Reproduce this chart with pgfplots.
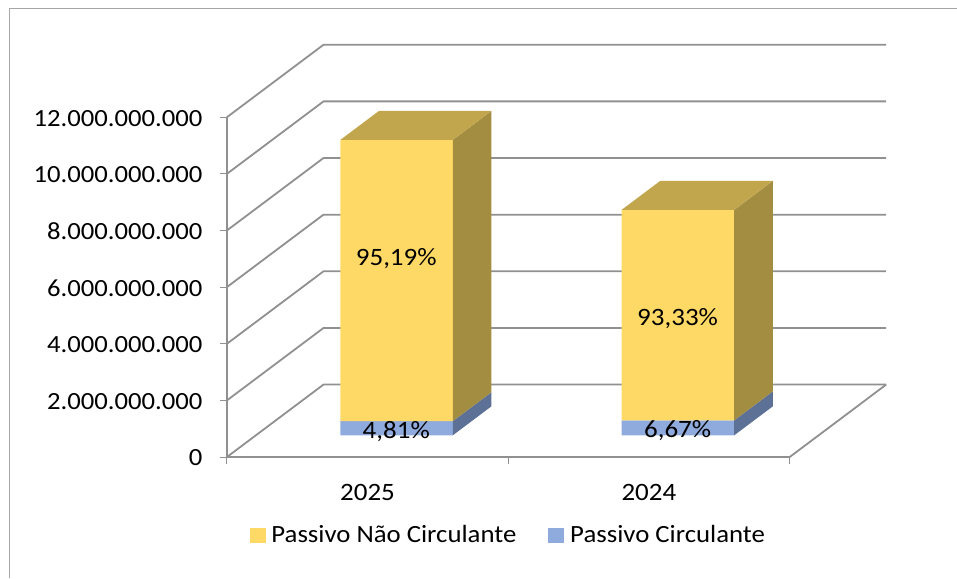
\documentclass[border=0pt]{standalone}
\usepackage{fontspec}
\setmainfont[FakeStretch=1.08]{Carlito}
\usepackage{pgfplots}
\pgfplotsset{compat=1.18}
\definecolor{gridc}{HTML}{909090}
\definecolor{framec}{HTML}{A6A6A6}
\definecolor{yfront}{HTML}{FFD966}
\definecolor{ytop}{HTML}{C2A64E}
\definecolor{yside}{HTML}{A38D40}
\definecolor{bfront}{HTML}{8FAADC}
\definecolor{bside}{HTML}{5D7096}
% x, y are chart values; z is the depth into the 3-D box (0 front, 1 back wall)
\newcommand\poly[2]{\addplot[fill=#1,draw=none,forget plot] table[x expr=\thisrow{x}+\thisrow{z}*0.3435,y expr=\thisrow{y}+\thisrow{z}*2560000000,row sep=\\]{x y z\\ #2};}
\newcommand\gridl[1]{\addplot[gridc,line width=1.8pt,forget plot,line join=round] table[x expr=\thisrow{x}+\thisrow{z}*0.3435,y expr=\thisrow{y}+\thisrow{z}*2560000000,row sep=\\]{x y z\\ 0 #1 0\\ 0 #1 1\\ 2 #1 1\\};}
% bar: left, right, low value, high value, front colour, side colour
\newcommand\barseg[6]{%
 \poly{#5}{#1 #3 0.3\\ #2 #3 0.3\\ #2 #4 0.3\\ #1 #4 0.3\\ #1 #3 0.3\\}
 \poly{#6}{#2 #3 0.3\\ #2 #3 0.7\\ #2 #4 0.7\\ #2 #4 0.3\\ #2 #3 0.3\\}
}
\newcommand\bartop[3]{\poly{ytop}{#1 #3 0.3\\ #2 #3 0.3\\ #2 #3 0.7\\ #1 #3 0.7\\ #1 #3 0.3\\}}
\begin{document}
\begin{tikzpicture}
\begin{axis}[
  at={(0pt,0pt)},anchor=south west,
  scale only axis,width=563pt,height=340pt,
  xmin=0,xmax=2,ymin=0,ymax=12000000000,
  clip=false,
  axis lines=left,axis line style={gridc,line width=1.8pt,-},
  every tick/.style={gridc,line width=1pt},
  major tick length=7pt,
  tick align=outside,
  xtick={0,1,2},xticklabels={},
  extra x ticks={0.5,1.5},extra x tick labels={2025,2024},
  extra x tick style={major tick length=0pt,tick label style={yshift=-24pt,font=\fontsize{25}{28}\selectfont}},
  ytick={0,2000000000,4000000000,6000000000,8000000000,10000000000,12000000000},
  scaled y ticks=false,
  yticklabel style={xshift=-14pt,yshift=-1pt,font=\fontsize{24.7}{28}\selectfont,/pgf/number format/fixed,/pgf/number format/precision=0,/pgf/number format/1000 sep={.},/pgf/number format/assume math mode=true},
  tick label style={text=black},
  ytick pos=left,xtick pos=bottom,
  legend style={at={(0.5,-0.2286)},anchor=center,draw=none,fill=none,legend columns=2,
    font=\fontsize{24.8}{28}\selectfont,/tikz/every even column/.append style={column sep=30pt},/tikz/every odd column/.append style={column sep=4.5pt}},
  legend cell align=left,
]
\gridl{0}\gridl{2000000000}\gridl{4000000000}\gridl{6000000000}\gridl{8000000000}\gridl{10000000000}\gridl{12000000000}
\addplot[gridc,line width=1.8pt,forget plot] table[x expr=\thisrow{x}+\thisrow{z}*0.3435,y expr=\thisrow{y}+\thisrow{z}*2560000000,row sep=\\]{x y z\\ 2 0 0\\ 2 0 1\\};
% 2025: 0.50 + 9.93 thousand million
\barseg{0.3}{0.7}{0}{500000000}{bfront}{bside}
\barseg{0.3}{0.7}{500000000}{10430000000}{yfront}{yside}
\bartop{0.3}{0.7}{10430000000}
% 2024: 0.53 + 7.43 thousand million
\barseg{1.3}{1.7}{0}{530000000}{bfront}{bside}
\barseg{1.3}{1.7}{530000000}{7960000000}{yfront}{yside}
\bartop{1.3}{1.7}{7960000000}
\addlegendimage{legend image code/.code={\fill[yfront] (0pt,-7pt) rectangle (15pt,7pt);}}
\addlegendentry{Passivo Não Circulante}
\addlegendimage{legend image code/.code={\fill[bfront] (0pt,-7pt) rectangle (15pt,7pt);}}
\addlegendentry{Passivo Circulante}
\node[font=\fontsize{25}{28}\selectfont] at (axis cs:0.602,6995000000) {95,19\%};
\node[font=\fontsize{25}{28}\selectfont] at (axis cs:0.602,890000000) {4,81\%};
\node[font=\fontsize{25}{28}\selectfont] at (axis cs:1.602,4880000000) {93,33\%};
\node[font=\fontsize{25}{28}\selectfont] at (axis cs:1.602,930000000) {6,67\%};
\end{axis}
\draw[framec,line width=1pt] (-217pt,-120.7pt) -- (-217pt,448.3pt) -- (730pt,448.3pt);
\path[use as bounding box] (-227pt,-120.7pt) rectangle (730pt,457.3pt);
\end{tikzpicture}
\end{document}
